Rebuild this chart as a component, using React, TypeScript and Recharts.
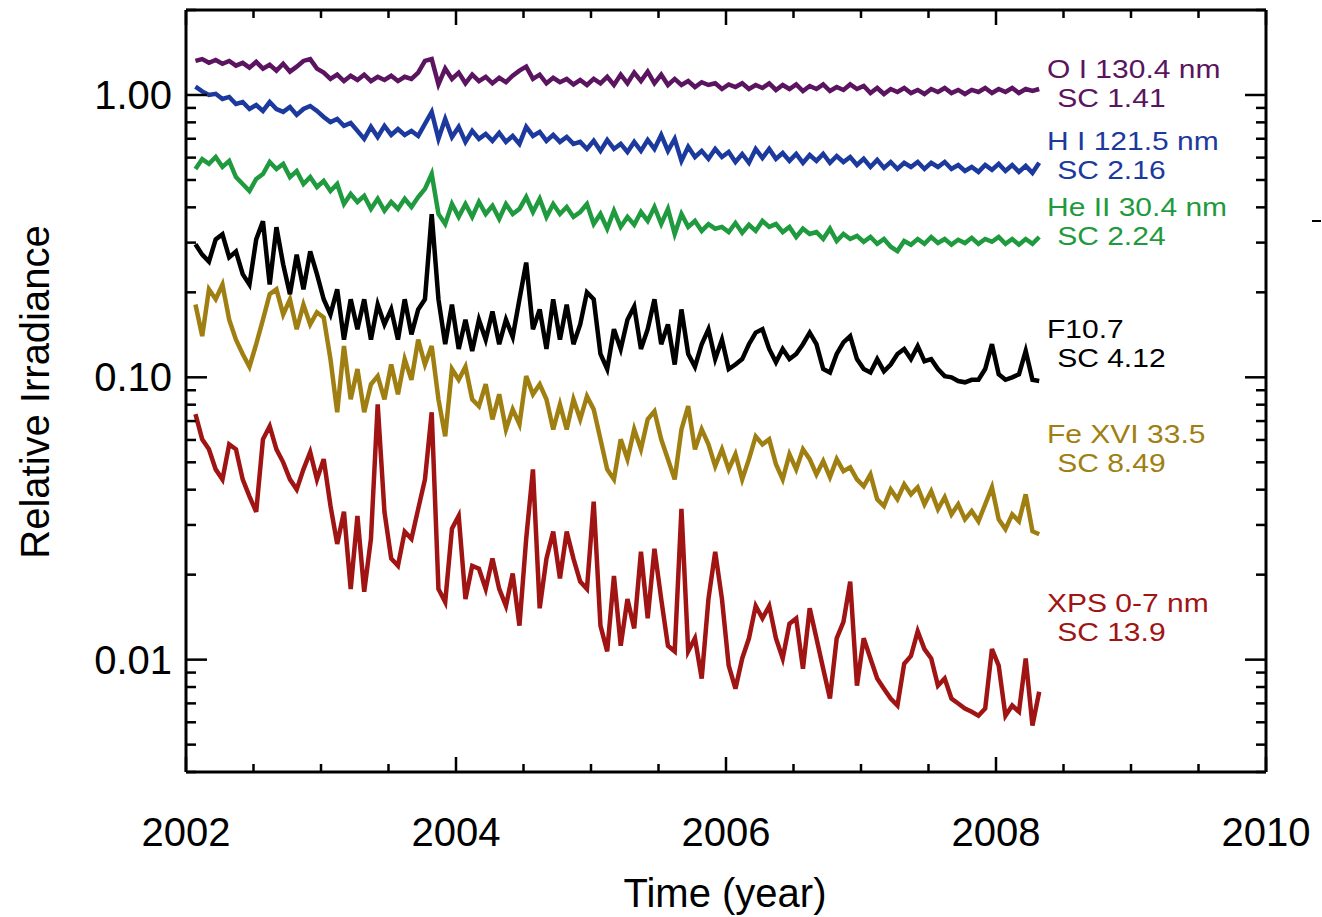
import React from 'react';
import { LineChart, Line, XAxis, YAxis } from 'recharts';

// time of each sample (year)
const years = [
  2002.07, 2002.12, 2002.17, 2002.22, 2002.27, 2002.32, 2002.37, 2002.42, 2002.47, 2002.52,
  2002.57, 2002.62, 2002.67, 2002.72, 2002.77, 2002.82, 2002.87, 2002.92, 2002.97, 2003.02,
  2003.07, 2003.12, 2003.17, 2003.22, 2003.27, 2003.32, 2003.37, 2003.42, 2003.47, 2003.52,
  2003.57, 2003.62, 2003.67, 2003.72, 2003.77, 2003.82, 2003.87, 2003.92, 2003.97, 2004.02,
  2004.07, 2004.12, 2004.17, 2004.22, 2004.27, 2004.32, 2004.37, 2004.42, 2004.47, 2004.52,
  2004.57, 2004.62, 2004.67, 2004.72, 2004.77, 2004.82, 2004.87, 2004.92, 2004.97, 2005.02,
  2005.07, 2005.12, 2005.17, 2005.22, 2005.27, 2005.32, 2005.37, 2005.42, 2005.47, 2005.52,
  2005.57, 2005.62, 2005.67, 2005.72, 2005.77, 2005.82, 2005.87, 2005.92, 2005.97, 2006.02,
  2006.07, 2006.12, 2006.17, 2006.22, 2006.27, 2006.32, 2006.37, 2006.42, 2006.47, 2006.52,
  2006.57, 2006.62, 2006.67, 2006.72, 2006.77, 2006.82, 2006.87, 2006.92, 2006.97, 2007.02,
  2007.07, 2007.12, 2007.17, 2007.22, 2007.27, 2007.32, 2007.37, 2007.42, 2007.47, 2007.52,
  2007.57, 2007.62, 2007.67, 2007.72, 2007.77, 2007.82, 2007.87, 2007.92, 2007.97, 2008.02,
  2008.07, 2008.12, 2008.17, 2008.22, 2008.27, 2008.32,
];

// O I 130.4 nm
const oi = [
  1.32, 1.34, 1.30, 1.33, 1.29, 1.32, 1.27, 1.30, 1.25, 1.31,
  1.24, 1.28, 1.22, 1.29, 1.21, 1.26, 1.32, 1.34, 1.24, 1.20,
  1.14, 1.18, 1.12, 1.17, 1.13, 1.18, 1.12, 1.16, 1.13, 1.17,
  1.12, 1.16, 1.14, 1.20, 1.32, 1.34, 1.09, 1.24, 1.14, 1.20,
  1.10, 1.18, 1.12, 1.16, 1.10, 1.15, 1.11, 1.17, 1.22, 1.26,
  1.14, 1.18, 1.10, 1.15, 1.11, 1.14, 1.09, 1.13, 1.085, 1.14,
  1.10, 1.16, 1.085, 1.18, 1.10, 1.20, 1.12, 1.21, 1.10, 1.18,
  1.085, 1.14, 1.085, 1.12, 1.067, 1.11, 1.085, 1.10, 1.05, 1.09,
  1.067, 1.10, 1.05, 1.085, 1.059, 1.10, 1.042, 1.085, 1.05, 1.09,
  1.033, 1.076, 1.05, 1.09, 1.033, 1.067, 1.042, 1.09, 1.05, 1.076,
  1.016, 1.059, 1.008, 1.05, 1.025, 1.059, 1.016, 1.042, 1.008, 1.05,
  1.025, 1.059, 1.016, 1.042, 1.008, 1.042, 1.025, 1.059, 1.016, 1.05,
  1.025, 1.059, 1.016, 1.05, 1.033, 1.05,
];

// H I 121.5 nm
const hi = [
  1.07, 1.03, 1.00, 1.01, 0.968, 0.984, 0.929, 0.944, 0.892, 0.922,
  0.878, 0.944, 0.892, 0.871, 0.907, 0.850, 0.892, 0.914, 0.878, 0.836,
  0.802, 0.822, 0.777, 0.796, 0.746, 0.699, 0.771, 0.710, 0.777, 0.722,
  0.758, 0.722, 0.746, 0.716, 0.790, 0.871, 0.699, 0.822, 0.710, 0.771,
  0.682, 0.746, 0.699, 0.728, 0.688, 0.734, 0.682, 0.716, 0.671, 0.771,
  0.716, 0.740, 0.688, 0.722, 0.682, 0.710, 0.671, 0.682, 0.644, 0.688,
  0.634, 0.693, 0.644, 0.671, 0.628, 0.682, 0.634, 0.693, 0.644, 0.722,
  0.634, 0.699, 0.584, 0.655, 0.603, 0.634, 0.594, 0.644, 0.603, 0.628,
  0.579, 0.618, 0.575, 0.644, 0.598, 0.644, 0.594, 0.623, 0.584, 0.618,
  0.575, 0.613, 0.584, 0.618, 0.575, 0.608, 0.579, 0.603, 0.565, 0.594,
  0.556, 0.589, 0.552, 0.579, 0.547, 0.575, 0.556, 0.579, 0.547, 0.575,
  0.556, 0.579, 0.547, 0.565, 0.538, 0.556, 0.534, 0.565, 0.543, 0.570,
  0.538, 0.565, 0.534, 0.561, 0.530, 0.575,
];

// He II 30.4 nm
const heii = [
  0.547, 0.593, 0.570, 0.603, 0.556, 0.584, 0.512, 0.484, 0.457, 0.504,
  0.525, 0.579, 0.547, 0.570, 0.512, 0.538, 0.484, 0.512, 0.472, 0.496,
  0.457, 0.484, 0.411, 0.446, 0.418, 0.439, 0.395, 0.429, 0.389, 0.418,
  0.395, 0.429, 0.401, 0.435, 0.465, 0.525, 0.379, 0.349, 0.411, 0.370,
  0.411, 0.370, 0.418, 0.379, 0.405, 0.364, 0.411, 0.379, 0.395, 0.435,
  0.385, 0.429, 0.370, 0.411, 0.379, 0.401, 0.370, 0.385, 0.411, 0.349,
  0.379, 0.336, 0.389, 0.341, 0.370, 0.347, 0.385, 0.358, 0.401, 0.349,
  0.395, 0.322, 0.379, 0.341, 0.358, 0.330, 0.349, 0.336, 0.341, 0.327,
  0.352, 0.325, 0.347, 0.330, 0.358, 0.341, 0.349, 0.327, 0.341, 0.314,
  0.336, 0.322, 0.327, 0.309, 0.336, 0.304, 0.322, 0.309, 0.317, 0.302,
  0.314, 0.297, 0.309, 0.290, 0.280, 0.304, 0.295, 0.309, 0.297, 0.314,
  0.299, 0.309, 0.295, 0.307, 0.299, 0.312, 0.297, 0.309, 0.302, 0.314,
  0.297, 0.309, 0.295, 0.309, 0.297, 0.314,
];

// F10.7
const f107 = [
  0.296, 0.272, 0.257, 0.308, 0.321, 0.266, 0.279, 0.232, 0.213, 0.308,
  0.357, 0.213, 0.340, 0.251, 0.197, 0.272, 0.205, 0.279, 0.232, 0.189,
  0.167, 0.205, 0.136, 0.189, 0.148, 0.189, 0.136, 0.181, 0.154, 0.174,
  0.136, 0.189, 0.142, 0.174, 0.189, 0.378, 0.189, 0.131, 0.181, 0.126,
  0.160, 0.124, 0.160, 0.136, 0.171, 0.131, 0.160, 0.139, 0.189, 0.255,
  0.148, 0.174, 0.126, 0.189, 0.136, 0.181, 0.131, 0.154, 0.200, 0.189,
  0.121, 0.107, 0.148, 0.126, 0.160, 0.178, 0.126, 0.148, 0.189, 0.131,
  0.154, 0.111, 0.174, 0.121, 0.109, 0.131, 0.148, 0.116, 0.136, 0.107,
  0.111, 0.116, 0.131, 0.144, 0.148, 0.126, 0.113, 0.126, 0.116, 0.121,
  0.131, 0.144, 0.131, 0.107, 0.104, 0.121, 0.133, 0.140, 0.116, 0.107,
  0.104, 0.116, 0.105, 0.111, 0.121, 0.126, 0.116, 0.129, 0.114, 0.116,
  0.107, 0.101, 0.100, 0.097, 0.096, 0.098, 0.098, 0.107, 0.131, 0.1025,
  0.098, 0.100, 0.1025, 0.124, 0.098, 0.097,
];

// Fe XVI 33.5
const fexvi = [
  0.181, 0.140, 0.205, 0.189, 0.213, 0.160, 0.136, 0.121, 0.109, 0.131,
  0.160, 0.197, 0.205, 0.167, 0.189, 0.148, 0.181, 0.154, 0.170, 0.163,
  0.116, 0.0752, 0.129, 0.0836, 0.107, 0.0752, 0.0945, 0.101, 0.0836, 0.111,
  0.0871, 0.116, 0.098, 0.136, 0.111, 0.129, 0.0836, 0.0618, 0.107, 0.098,
  0.109, 0.0836, 0.0790, 0.0945, 0.0710, 0.0871, 0.0654, 0.0770, 0.0682, 0.101,
  0.0871, 0.0945, 0.0836, 0.0654, 0.0802, 0.0654, 0.0836, 0.0710, 0.0857, 0.0770,
  0.0603, 0.0472, 0.0435, 0.0603, 0.0513, 0.0654, 0.0556, 0.0710, 0.0758, 0.0603,
  0.0513, 0.0435, 0.0654, 0.0790, 0.0556, 0.0654, 0.0579, 0.0484, 0.0556, 0.0472,
  0.0534, 0.0435, 0.0513, 0.0618, 0.0579, 0.0603, 0.0492, 0.0435, 0.0534, 0.0472,
  0.0556, 0.0513, 0.0453, 0.0505, 0.0443, 0.0513, 0.0465, 0.0480, 0.0435, 0.0411,
  0.0453, 0.0370, 0.0350, 0.0401, 0.0370, 0.0418, 0.0385, 0.0408, 0.0355, 0.0395,
  0.0341, 0.0376, 0.0327, 0.0355, 0.0314, 0.0336, 0.0309, 0.0355, 0.0408, 0.0314,
  0.0290, 0.0327, 0.0309, 0.0385, 0.0285, 0.0278,
];

// XPS 0-7 nm
const xps = [
  0.0741, 0.0603, 0.0556, 0.0472, 0.0435, 0.0579, 0.0556, 0.0435, 0.0379, 0.0334,
  0.0603, 0.0671, 0.0556, 0.0500, 0.0435, 0.0401, 0.0472, 0.0543, 0.0435, 0.0513,
  0.0351, 0.0257, 0.0334, 0.0178, 0.0323, 0.0174, 0.0268, 0.0802, 0.0334, 0.0228,
  0.0215, 0.0284, 0.0268, 0.0342, 0.0435, 0.0752, 0.0178, 0.0160, 0.0291, 0.0323,
  0.0164, 0.0215, 0.0210, 0.0178, 0.0228, 0.0178, 0.0155, 0.0202, 0.0132, 0.0268,
  0.0472, 0.0152, 0.0228, 0.0284, 0.0194, 0.0284, 0.0228, 0.0189, 0.0178, 0.0363,
  0.0132, 0.0107, 0.0198, 0.0112, 0.0164, 0.0129, 0.0241, 0.0140, 0.0247, 0.0164,
  0.0112, 0.0107, 0.0342, 0.0107, 0.0119, 0.00857, 0.0164, 0.0241, 0.0164, 0.00952,
  0.00789, 0.0101, 0.0119, 0.0155, 0.0140, 0.0155, 0.0119, 0.0101, 0.0134, 0.0140,
  0.00929, 0.0152, 0.0119, 0.00929, 0.00728, 0.0119, 0.0136, 0.0189, 0.00809, 0.0119,
  0.0101, 0.00857, 0.00789, 0.00728, 0.00688, 0.00968, 0.0103, 0.0126, 0.0109, 0.0101,
  0.00809, 0.00857, 0.00728, 0.00699, 0.00671, 0.00654, 0.00633, 0.00671, 0.0109, 0.00952,
  0.00633, 0.00688, 0.00654, 0.0101, 0.00584, 0.00770,
];

const xTicks = [2002, 2002.5, 2003, 2003.5, 2004, 2004.5, 2005, 2005.5, 2006, 2006.5, 2007, 2007.5, 2008, 2008.5, 2009, 2009.5, 2010];
const yTicks = [
  0.004, 0.005, 0.006, 0.007, 0.008, 0.009,
  0.01, 0.02, 0.03, 0.04, 0.05, 0.06, 0.07, 0.08, 0.09,
  0.1, 0.2, 0.3, 0.4, 0.5, 0.6, 0.7, 0.8, 0.9,
  1, 2,
];

const labels = [
  { name: 'O I 130.4 nm', sc: 'SC 1.41', color: '#5b1460', y: 78 },
  { name: 'H I 121.5 nm', sc: 'SC 2.16', color: '#1c3a9e', y: 150 },
  { name: 'He II 30.4 nm', sc: 'SC 2.24', color: '#1f9a3e', y: 216 },
  { name: 'F10.7', sc: 'SC 4.12', color: '#000000', y: 338 },
  { name: 'Fe XVI 33.5', sc: 'SC 8.49', color: '#a07f12', y: 443 },
  { name: 'XPS 0-7 nm', sc: 'SC 13.9', color: '#a01414', y: 612 },
];

const rows = years.map((t, i) => ({
  t, oi: oi[i], hi: hi[i], heii: heii[i], f107: f107[i], fexvi: fexvi[i], xps: xps[i],
}));

const FONT = '"Liberation Sans", Arial, Helvetica, sans-serif';

const isDecade = (v: number) => v < 1.5 && Math.abs(Math.log10(v) - Math.round(Math.log10(v))) < 1e-6;
const isMajorYear = (v: number) => Number.isInteger(v) && v % 2 === 0;

const LeftTick = (props: any) => {
  const { x, y, payload } = props;
  const major = isDecade(payload.value);
  return (
    <g>
      <line x1={x} y1={y} x2={x + (major ? 21 : 10)} y2={y} stroke="#000" strokeWidth={2.5} />
      {major && (
        <text x={x - 14} y={y + 14} textAnchor="end" fontSize={40} fontFamily={FONT} fill="#000">
          {payload.value.toFixed(2)}
        </text>
      )}
    </g>
  );
};

const RightTick = (props: any) => {
  const { x, y, payload } = props;
  const major = isDecade(payload.value);
  return <line x1={x} y1={y} x2={x - (major ? 21 : 10)} y2={y} stroke="#000" strokeWidth={2.5} />;
};

const BottomTick = (props: any) => {
  const { x, y, payload } = props;
  const major = isMajorYear(payload.value);
  return (
    <g>
      <line x1={x} y1={y} x2={x} y2={y - (major ? 15 : 8)} stroke="#000" strokeWidth={2.5} />
      {major && (
        <text x={x} y={y + 74} textAnchor="middle" fontSize={40} fontFamily={FONT} fill="#000">
          {payload.value}
        </text>
      )}
    </g>
  );
};

const TopTick = (props: any) => {
  const { x, y, payload } = props;
  const major = isMajorYear(payload.value);
  return <line x1={x} y1={y} x2={x} y2={y + (major ? 15 : 8)} stroke="#000" strokeWidth={2.5} />;
};

const axisLine = { stroke: '#000', strokeWidth: 3 };
const lineProps = { strokeWidth: 4.5, dot: false, isAnimationActive: false, type: 'linear' as const };

export default function App() {
  return (
    <div style={{ position: 'absolute', left: 0, top: 0, width: 1322, height: 917, background: '#fff' }}>
      <LineChart width={1322} height={917} data={rows} margin={{ top: 9, right: 55, bottom: 0, left: 0 }}>
        <XAxis dataKey="t" type="number" domain={[2002, 2010]} ticks={xTicks} interval={0}
          height={145} tickSize={0} tickMargin={0} tickLine={false} axisLine={axisLine}
          tick={BottomTick} allowDataOverflow />
        <XAxis xAxisId="top" dataKey="t" orientation="top" type="number" domain={[2002, 2010]} ticks={xTicks} interval={0}
          height={1} tickSize={0} tickMargin={0} tickLine={false} axisLine={axisLine}
          tick={TopTick} allowDataOverflow />
        <YAxis scale="log" type="number" domain={[0.004, 2]} ticks={yTicks} interval={0}
          width={186} tickSize={0} tickMargin={0} tickLine={false} axisLine={axisLine}
          tick={LeftTick} allowDataOverflow />
        <YAxis yAxisId="right" orientation="right" scale="log" type="number" domain={[0.004, 2]} ticks={yTicks} interval={0}
          width={1} tickSize={0} tickMargin={0} tickLine={false} axisLine={axisLine}
          tick={RightTick} allowDataOverflow />
        <Line dataKey="xps" stroke="#a01414" {...lineProps} />
        <Line dataKey="fexvi" stroke="#a07f12" {...lineProps} />
        <Line dataKey="f107" stroke="#000000" {...lineProps} />
        <Line dataKey="heii" stroke="#1f9a3e" {...lineProps} />
        <Line dataKey="hi" stroke="#1c3a9e" {...lineProps} />
        <Line dataKey="oi" xAxisId="top" yAxisId="right" stroke="#5b1460" {...lineProps} />
      </LineChart>
      <svg width={1322} height={917} style={{ position: 'absolute', left: 0, top: 0, pointerEvents: 'none' }}>
        {labels.map((l) => (
          <g key={l.name} transform={`translate(1047, ${l.y}) scale(1.2, 1)`} fill={l.color} fontFamily={FONT} fontSize={25}>
            <text x={0} y={0}>{l.name}</text>
            <text x={8.5} y={29}>{l.sc}</text>
          </g>
        ))}
        <text x={0} y={0} transform="translate(49,392) rotate(-90)" textAnchor="middle" fontSize={40} fontFamily={FONT} fill="#000">
          Relative Irradiance
        </text>
        <text x={725} y={907} textAnchor="middle" fontSize={40} fontFamily={FONT} fill="#000">
          Time (year)
        </text>
        <line x1={1312} y1={221} x2={1321} y2={221} stroke="#000" strokeWidth={2} />
      </svg>
    </div>
  );
}
